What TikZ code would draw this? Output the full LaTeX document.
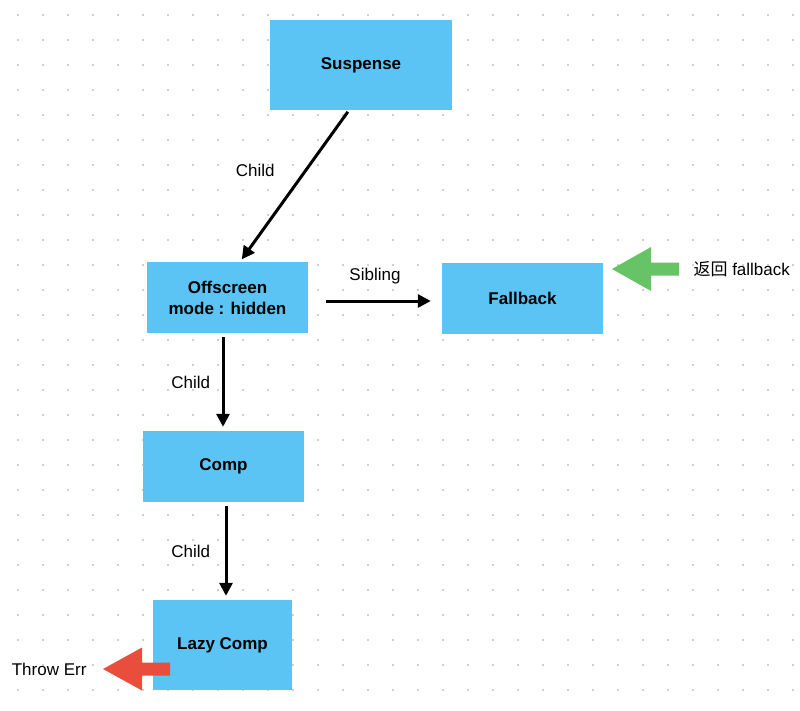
\documentclass[tikz,border=0pt]{standalone}
\usepackage{fontspec}
\setmainfont{Liberation Sans}
\newfontfamily\cjk{Noto Sans CJK SC}
\usetikzlibrary{arrows.meta,positioning}
\definecolor{boxblue}{HTML}{5BC4F5}
\definecolor{markgreen}{HTML}{66C466}
\definecolor{markred}{HTML}{E94E3D}
\definecolor{dotgray}{HTML}{CFCFCF}
\tikzset{
    fiberbox/.style={rectangle,fill=boxblue,align=center,inner sep=0pt,font=\fontsize{17}{21}\selectfont\bfseries},
    fiberline/.style={-{Triangle[length=13pt,width=13pt]},line width=3pt},
    fiberlabel/.style={font=\fontsize{17}{21}\selectfont},
    greenmark/.style={fill=markgreen},
    redmark/.style={fill=markred}
}

\begin{document}
\begin{tikzpicture}[x=1pt,y=-1pt]
            \fill[white] (0,0) rectangle (800,710);
            \useasboundingbox (0,0) rectangle (800,710);
            % dotted canvas
            \foreach \i in {0,...,31}
                \foreach \j in {0,...,27}
                    \fill[dotgray] (17.5+25*\i-1,15+25*\j-1) rectangle ++(2,2);
            \node[fiberbox,minimum width=182pt,minimum height=90pt] (suspense) at (361,65) {Suspense};
            \node[fiberbox,minimum width=161pt,minimum height=71pt] (offscreen) at (227.5,297.5) {Offscreen\\mode : hidden};
            \node[fiberbox,minimum width=161pt,minimum height=71pt] (fallback) at (522.5,298.5) {Fallback};
            \node[fiberbox,minimum width=161pt,minimum height=71pt] (comp) at (223.5,466.5) {Comp};
            \node[fiberbox,minimum width=139pt,minimum height=90pt] (lazy) at (222.5,645) {Lazy Comp};
            \draw[fiberline,shorten <=2pt,shorten >=3pt] ([xshift=-12pt]suspense.south) -- node[fiberlabel,pos=0.4,left=26pt] {Child} ([xshift=12.5pt]offscreen.north);
            \draw[fiberline,shorten <=18pt,shorten >=11pt] ([yshift=-3.5pt]offscreen.east) -- node[fiberlabel,above=12pt] {Sibling} ([yshift=-2.5pt]fallback.west);
            \draw[fiberline,shorten <=4pt,shorten >=4pt] ([xshift=-4.5pt]offscreen.south) -- node[fiberlabel,left=8pt] {Child} ([xshift=-0.5pt]comp.north);
            \draw[fiberline,shorten <=4pt,shorten >=4pt] ([xshift=2.5pt]comp.south) -- node[fiberlabel,left=11pt] {Child} ([xshift=3.5pt]lazy.north);
            % block arrows
            \coordinate (greentip) at (612,269);
            \fill[greenmark] (greentip) -- ++(39,-22) -- ++(0,15.5) -- ++(28,0) -- ++(0,13) -- ++(-28,0) -- ++(0,15.5) -- cycle;
            \node[fiberlabel,anchor=west] (backnote) at (690,269) {{\cjk 返回} fallback};
            \coordinate (redtip) at (103,669);
            \fill[redmark] (redtip) -- ++(39,-21.5) -- ++(0,15) -- ++(28,0) -- ++(0,13) -- ++(-28,0) -- ++(0,15) -- cycle;
            \node[fiberlabel,anchor=east] (thrownote) at (90,669) {Throw Err};
        \end{tikzpicture}
\end{document}
